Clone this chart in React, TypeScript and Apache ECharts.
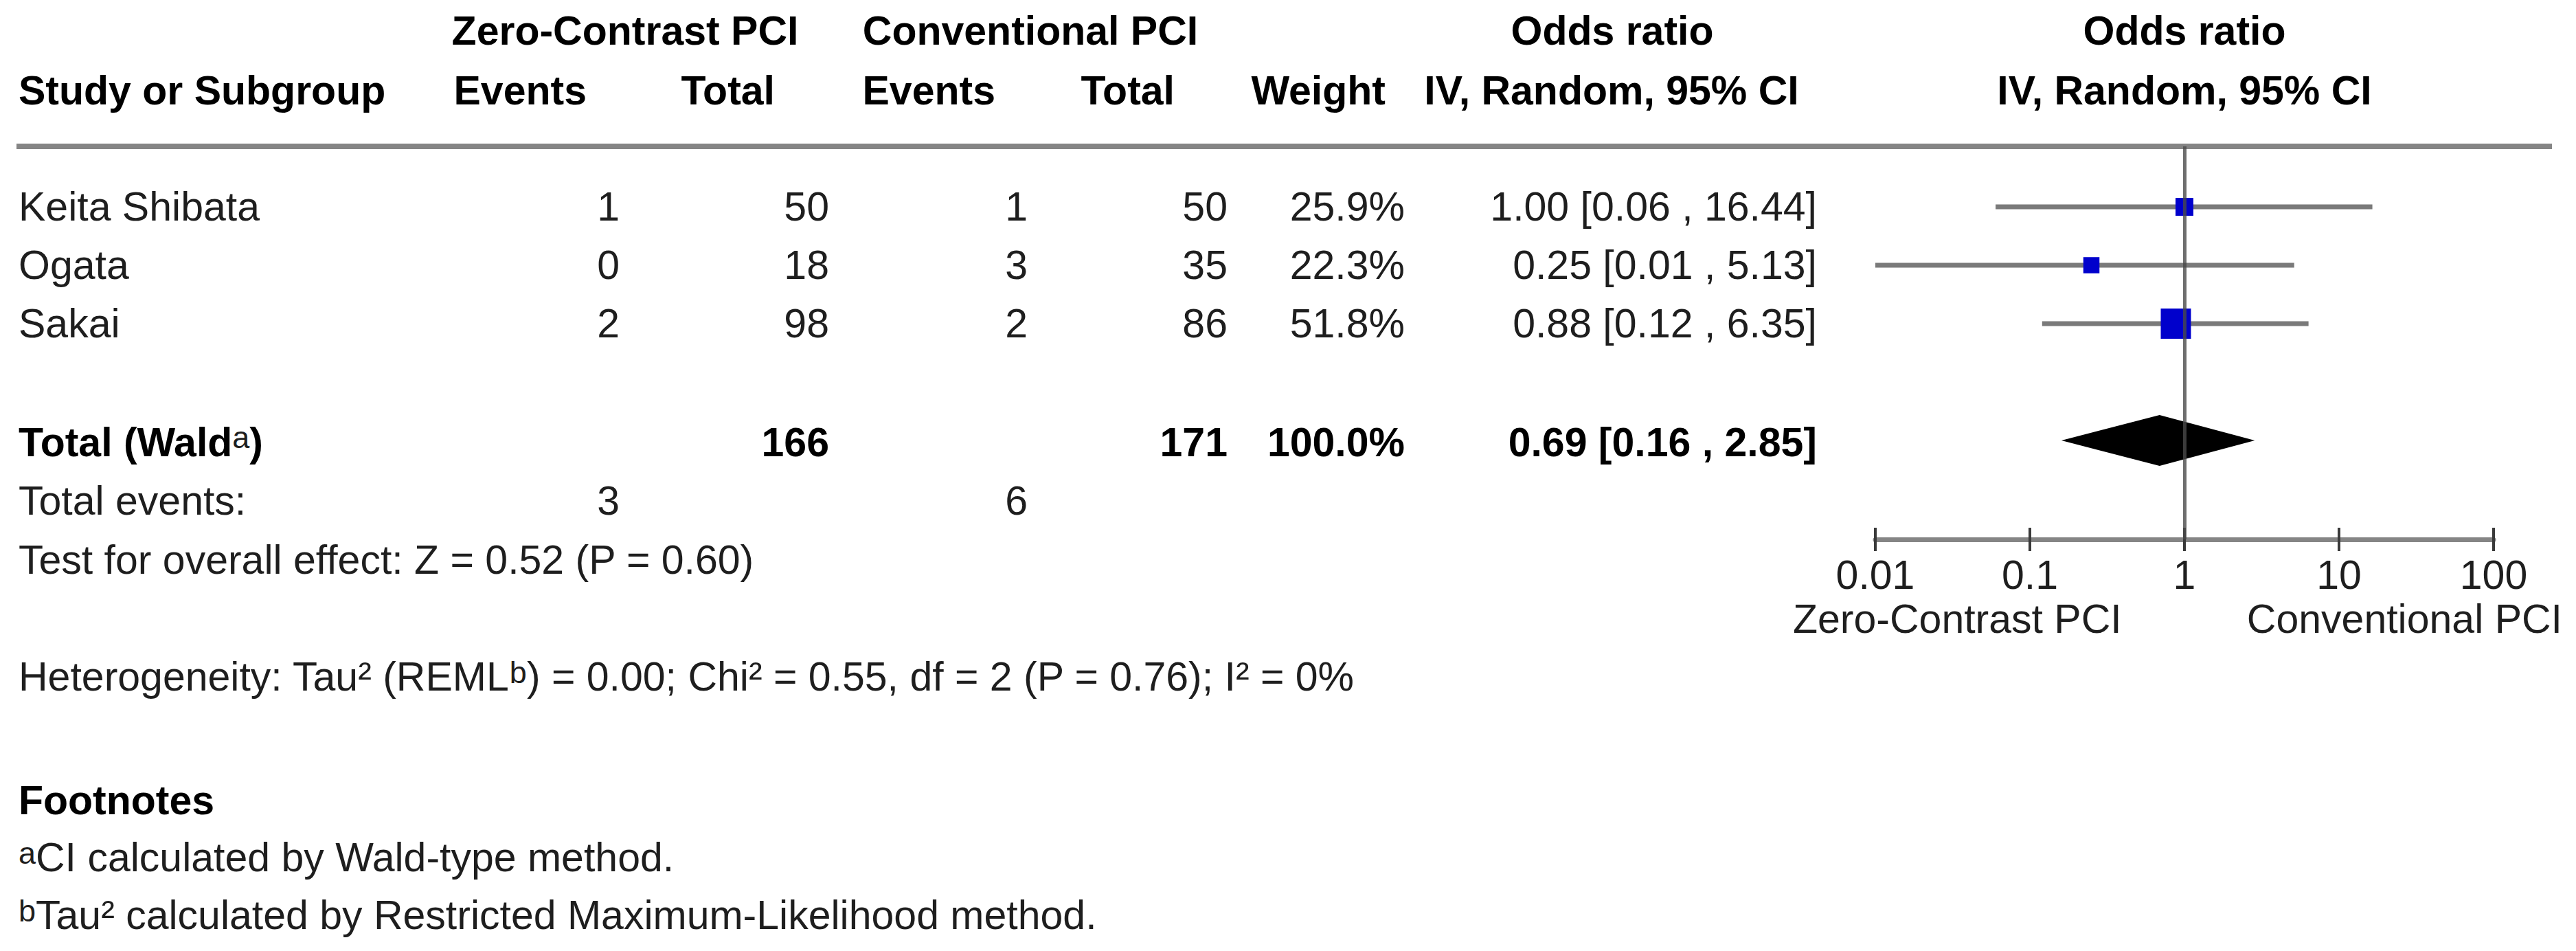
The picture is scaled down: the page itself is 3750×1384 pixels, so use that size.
import React, { useEffect, useRef } from 'react';
import * as echarts from 'echarts';

// ---------- data ----------
const studies = ['Keita Shibata', 'Ogata', 'Sakai'];
const zeroEvents = [1, 0, 2];
const zeroTotal = [50, 18, 98];
const convEvents = [1, 3, 2];
const convTotal = [50, 35, 86];
const weights = [25.9, 22.3, 51.8];
const oddsRatios = [1.0, 0.25, 0.88];
const ciLower = [0.06, 0.01, 0.12];
const ciUpper = [16.44, 5.13, 6.35];
const pooledOR = [0.69, 0.16, 2.85]; // estimate, lower, upper
const pooledWeight = 100.0;
const axisTickLabels = ['0.01', '0.1', '1', '10', '100'];
const studyRows = [1, 2, 3];
const pooledRow = 5;
const overallZ = 0.52;
const overallP = 0.6;
const tau2 = 0.0;
const chi2 = 0.55;
const hetDf = 2;
const hetP = 0.76;
const i2 = 0;

// ---------- layout ----------
const FF = '"Liberation Sans", Arial, Helvetica, sans-serif';
const FS = 59;
const GRID_LEFT = 2730;
const GRID_RIGHT = 3630;
const GRID_TOP = 213;
const GRID_BOTTOM = 785;
const ROW_H = 85;
const Y_MIN = -0.035;
const Y_MAX = Y_MIN + (GRID_BOTTOM - GRID_TOP) / ROW_H;
const rowY = (k: number) => GRID_TOP + (k - Y_MIN) * ROW_H;
const TICK_LEN = 17;

const COL = {
  name: 27,
  zeroEv: 902,
  zeroTot: 1207,
  convEv: 1496,
  convTot: 1787,
  weight: 2045,
  or: 2645,
};

const supStyle = () => ({
  fontSize: 45,
  fontFamily: FF,
  fontWeight: 'normal',
  fill: '#1e1e1e',
  verticalAlign: 'top',
});

const T = (text: string, x: number, y: number, align = 'left', bold = false, rich = false) => ({
  type: 'text',
  x,
  y,
  silent: true,
  z: 20,
  style: {
    text,
    fill: bold ? '#000' : '#1e1e1e',
    fontSize: FS,
    fontFamily: FF,
    fontWeight: bold ? 'bold' : 'normal',
    textAlign: align,
    align,
    textVerticalAlign: 'middle',
    verticalAlign: 'middle',
    ...(rich ? { rich: { sup: supStyle() } } : {}),
  },
});

const fmtCI = (o: number, l: number, h: number) => `${o.toFixed(2)} [${l.toFixed(2)} , ${h.toFixed(2)}]`;
const sum = (a: number[]) => a.reduce((s, v) => s + v, 0);

function buildGraphics() {
  const g: any[] = [];
  // header line
  g.push({
    type: 'line',
    silent: true,
    z: 1,
    shape: { x1: 24, y1: GRID_TOP, x2: 3715, y2: GRID_TOP },
    style: { stroke: '#858585', lineWidth: 8 },
  });
  // header row 1
  const h1 = 45;
  g.push(T('Zero-Contrast PCI', 910, h1, 'center', true));
  g.push(T('Conventional PCI', 1500, h1, 'center', true));
  g.push(T('Odds ratio', 2347, h1, 'center', true));
  g.push(T('Odds ratio', (GRID_LEFT + GRID_RIGHT) / 2, h1, 'center', true));
  // header row 2
  const h2 = 132;
  g.push(T('Study or Subgroup', COL.name, h2, 'left', true));
  g.push(T('Events', 854, h2, 'right', true));
  g.push(T('Total', 1128, h2, 'right', true));
  g.push(T('Events', 1449, h2, 'right', true));
  g.push(T('Total', 1710, h2, 'right', true));
  g.push(T('Weight', 2017, h2, 'right', true));
  g.push(T('IV, Random, 95% CI', 2346, h2, 'center', true));
  g.push(T('IV, Random, 95% CI', (GRID_LEFT + GRID_RIGHT) / 2, h2, 'center', true));

  // study rows
  studies.forEach((s, i) => {
    const y = rowY(studyRows[i]);
    g.push(T(s, COL.name, y, 'left'));
    g.push(T(String(zeroEvents[i]), COL.zeroEv, y, 'right'));
    g.push(T(String(zeroTotal[i]), COL.zeroTot, y, 'right'));
    g.push(T(String(convEvents[i]), COL.convEv, y, 'right'));
    g.push(T(String(convTotal[i]), COL.convTot, y, 'right'));
    g.push(T(`${weights[i].toFixed(1)}%`, COL.weight, y, 'right'));
    g.push(T(fmtCI(oddsRatios[i], ciLower[i], ciUpper[i]), COL.or, y, 'right'));
  });

  // total row
  const ty = rowY(pooledRow) + 3;
  g.push(T('Total (Wald{sup|a})', COL.name, ty, 'left', true, true));
  g.push(T(String(sum(zeroTotal)), COL.zeroTot, ty, 'right', true));
  g.push(T(String(sum(convTotal)), COL.convTot, ty, 'right', true));
  g.push(T(`${pooledWeight.toFixed(1)}%`, COL.weight, ty, 'right', true));
  g.push(T(fmtCI(pooledOR[0], pooledOR[1], pooledOR[2]), COL.or, ty, 'right', true));

  // total events
  const ey = 729;
  g.push(T('Total events:', COL.name, ey, 'left'));
  g.push(T(String(sum(zeroEvents)), COL.zeroEv, ey, 'right'));
  g.push(T(String(sum(convEvents)), COL.convEv, ey, 'right'));

  g.push(T(`Test for overall effect: Z = ${overallZ.toFixed(2)} (P = ${overallP.toFixed(2)})`, COL.name, 815, 'left'));
  g.push(
    T(
      `Heterogeneity: Tau² (REML{sup|b}) = ${tau2.toFixed(2)}; Chi² = ${chi2.toFixed(2)}, df = ${hetDf} (P = ${hetP.toFixed(2)}); I² = ${i2}%`,
      COL.name,
      985,
      'left',
      false,
      true
    )
  );
  g.push(T('Footnotes', COL.name, 1165, 'left', true));
  g.push(T('{sup|a}CI calculated by Wald-type method.', COL.name, 1248, 'left', false, true));
  g.push(T('{sup|b}Tau² calculated by Restricted Maximum-Likelihood method.', COL.name, 1332, 'left', false, true));

  // favours labels under axis
  g.push(T('Zero-Contrast PCI', 2610, 901, 'left'));
  g.push(T('Conventional PCI', 3730, 901, 'right'));
  return g;
}

const option: any = {
  animation: false,
  backgroundColor: '#ffffff',
  grid: {
    left: GRID_LEFT,
    top: GRID_TOP,
    width: GRID_RIGHT - GRID_LEFT,
    height: GRID_BOTTOM - GRID_TOP,
    containLabel: false,
  },
  xAxis: {
    type: 'log',
    logBase: 10,
    min: 0.01,
    max: 100,
    position: 'bottom',
    splitLine: { show: false },
    minorTick: { show: false },
    minorSplitLine: { show: false },
    axisLine: { show: true, onZero: false, lineStyle: { color: '#858585', width: 7 } },
    axisTick: { show: true, inside: false, length: TICK_LEN, lineStyle: { color: '#3a3a3a', width: 4 } },
    axisLabel: {
      show: true,
      margin: 22,
      fontSize: FS,
      fontFamily: FF,
      color: '#1e1e1e',
      formatter: (v: number) => {
        const hit = axisTickLabels.find((l) => Math.abs(Math.log10(Number(l)) - Math.log10(v)) < 1e-6);
        return hit ?? '';
      },
    },
  },
  yAxis: {
    type: 'value',
    inverse: true,
    min: Y_MIN,
    max: Y_MAX,
    show: false,
    splitLine: { show: false },
  },
  series: [
    {
      // upper half of the axis tick marks
      type: 'custom',
      name: 'ticks',
      z: 4,
      encode: { x: 0 },
      data: axisTickLabels.map((l) => [Number(l)]),
      renderItem: (_params: any, api: any) => {
        const p = api.coord([api.value(0), Y_MAX]);
        return {
          type: 'line',
          shape: { x1: p[0], y1: p[1] - TICK_LEN, x2: p[0], y2: p[1] },
          style: { stroke: '#3a3a3a', lineWidth: 4 },
        };
      },
    },
    {
      type: 'custom',
      name: 'studies',
      z: 3,
      encode: { x: [0, 1, 2], y: 3 },
      data: studies.map((_, i) => [oddsRatios[i], ciLower[i], ciUpper[i], studyRows[i], weights[i]]),
      renderItem: (_params: any, api: any) => {
        const y = api.value(3);
        const p0 = api.coord([api.value(1), y]);
        const p1 = api.coord([api.value(2), y]);
        const c = api.coord([api.value(0), y]);
        const s = 8 + 0.695 * api.value(4);
        return {
          type: 'group',
          children: [
            {
              type: 'line',
              shape: { x1: p0[0], y1: p0[1], x2: p1[0], y2: p1[1] },
              style: { stroke: '#7a7a7a', lineWidth: 7 },
            },
            {
              type: 'rect',
              shape: { x: c[0] - s / 2, y: c[1] - s / 2, width: s, height: s },
              style: { fill: '#0000cc' },
            },
          ],
        };
      },
    },
    {
      type: 'custom',
      name: 'pooled',
      z: 3,
      encode: { x: [0, 1, 2], y: 3 },
      data: [[pooledOR[0], pooledOR[1], pooledOR[2], pooledRow]],
      renderItem: (_params: any, api: any) => {
        const y = api.value(3);
        const lo = api.coord([api.value(1), y]);
        const hi = api.coord([api.value(2), y]);
        const c = api.coord([api.value(0), y]);
        const h = 37;
        return {
          type: 'polygon',
          shape: {
            points: [
              [lo[0], lo[1]],
              [c[0], c[1] - h],
              [hi[0], hi[1]],
              [c[0], c[1] + h],
            ],
          },
          style: { fill: '#000000' },
        };
      },
    },
    {
      type: 'line',
      name: 'no effect',
      data: [],
      z: 10,
      markLine: {
        silent: true,
        symbol: ['none', 'none'],
        label: { show: false },
        lineStyle: { color: '#4a4a4a', width: 5, type: 'solid', opacity: 0.8 },
        data: [{ xAxis: 1 }],
      },
    },
  ],
  graphic: { elements: buildGraphics() },
};

export default function App() {
  const ref = useRef<HTMLDivElement>(null);
  useEffect(() => {
    const chart = echarts.init(ref.current!, null, { renderer: 'svg' });
    chart.setOption(option);
    return () => chart.dispose();
  }, []);
  return (
    <div
      ref={ref}
      style={{ position: 'absolute', left: 0, top: 0, width: 3750, height: 1384, background: '#fff' }}
    />
  );
}
